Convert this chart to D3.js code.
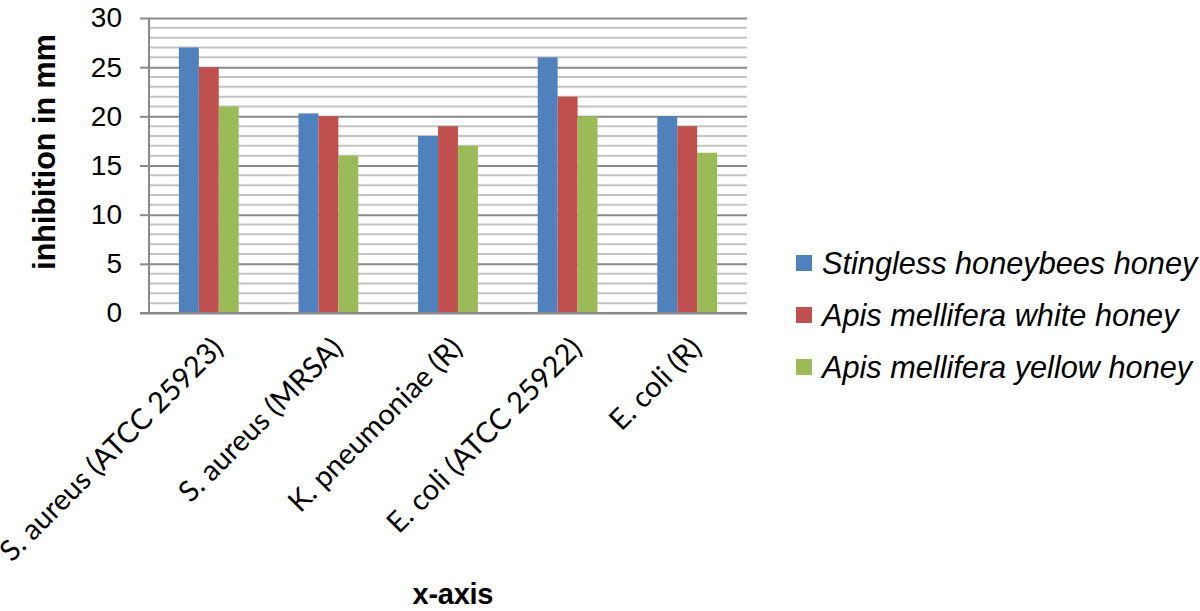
<!DOCTYPE html>
<html lang="en">
<head>
  <meta charset="UTF-8">
  <title>Inhibition zones by honey type</title>
  <script src="https://cdn.jsdelivr.net/npm/d3@7"></script>
  <style>
    html, body { margin: 0; padding: 0; background: #fff; }
    svg { display: block; }
  </style>
</head>
<body>
  <script>
    // ------------- Data -------------
    const categories = [
      "S. aureus (ATCC 25923)",
      "S. aureus (MRSA)",
      "K. pneumoniae (R)",
      "E. coli (ATCC 25922)",
      "E. coli (R)"
    ];
    const seriesNames = [
      "Stingless honeybees honey",
      "Apis mellifera white honey",
      "Apis mellifera yellow honey"
    ];
    const stinglessValues = [27, 20.3, 18, 26, 20];
    const whiteValues     = [25, 20, 19, 22, 19];
    const yellowValues    = [21, 16, 17, 20, 16.3];
    const seriesColors = ["#4f81bd", "#c0504d", "#9bbb59"];
    const yTicks = [0, 5, 10, 15, 20, 25, 30];

    // ------------- Layout -------------
    const width = 1200, height = 611;
    const plot = { left: 149, right: 747, top: 18, bottom: 313 };

    const svg = d3.select("body").append("svg")
      .attr("width", width)
      .attr("height", height);

    svg.append("rect")
      .attr("width", width).attr("height", height)
      .attr("fill", "#fff");

    const x = d3.scaleBand()
      .domain(categories)
      .range([plot.left, plot.right])
      .paddingInner(0.5)
      .paddingOuter(0.25);

    const xs = d3.scaleBand()
      .domain(seriesNames)
      .range([0, x.bandwidth()]);

    const y = d3.scaleLinear()
      .domain([0, 30])
      .range([plot.bottom, plot.top]);

    // minor gridlines every 1 unit
    const minor = d3.range(1, 30).filter(v => v % 5 !== 0);
    svg.append("g").selectAll("line")
      .data(minor)
      .join("line")
        .attr("x1", plot.left).attr("x2", plot.right)
        .attr("y1", d => y(d)).attr("y2", d => y(d))
        .attr("stroke", "#c4c4c4")
        .attr("stroke-width", 2);

    // major gridlines + y axis
    const yAxis = svg.append("g")
      .attr("transform", `translate(${plot.left},0)`)
      .call(d3.axisLeft(y).tickValues(yTicks).tickSize(-(plot.right - plot.left)).tickPadding(27));
    yAxis.select(".domain").remove();
    yAxis.selectAll(".tick line")
      .attr("stroke", "#8a8a8a")
      .attr("stroke-width", 2);
    yAxis.selectAll(".tick")
      .append("line")
        .attr("x1", -9).attr("x2", 0)
        .attr("stroke", "#8a8a8a")
        .attr("stroke-width", 2);
    yAxis.selectAll(".tick text")
      .attr("font-family", "Liberation Sans, Arial, sans-serif")
      .attr("font-size", 28)
      .attr("fill", "#000");

    // vertical axis line
    svg.append("line")
      .attr("x1", plot.left).attr("x2", plot.left)
      .attr("y1", plot.top).attr("y2", plot.bottom)
      .attr("stroke", "#8a8a8a")
      .attr("stroke-width", 2);

    // ------------- Bars -------------
    const seriesValues = [stinglessValues, whiteValues, yellowValues];
    const groups = svg.append("g").selectAll("g")
      .data(categories)
      .join("g")
        .attr("transform", d => `translate(${x(d)},0)`);

    groups.selectAll("rect")
      .data((d, i) => seriesNames.map((s, k) => ({ s, v: seriesValues[k][i], k })))
      .join("rect")
        .attr("x", d => xs(d.s))
        .attr("y", d => y(d.v))
        .attr("width", xs.bandwidth())
        .attr("height", d => y(0) - y(d.v))
        .attr("fill", d => seriesColors[d.k]);

    // bottom axis line on top of bars
    svg.append("line")
      .attr("x1", plot.left - 9).attr("x2", plot.right)
      .attr("y1", plot.bottom).attr("y2", plot.bottom)
      .attr("stroke", "#8a8a8a")
      .attr("stroke-width", 2);

    // ------------- Category labels -------------
    svg.append("g").selectAll("text")
      .data(categories)
      .join("text")
        .attr("transform", d => `translate(${x(d) + x.bandwidth() / 2 + 16},${plot.bottom + 37}) rotate(-45)`)
        .attr("text-anchor", "end")
        .attr("font-family", "Lato, 'Open Sans', sans-serif")
        .attr("font-size", 29)
        .attr("fill", "#000")
        .text(d => d);

    // ------------- Axis titles -------------
    svg.append("text")
      .attr("transform", `translate(55,152) rotate(-90)`)
      .attr("text-anchor", "middle")
      .attr("font-family", "Liberation Sans, Arial, sans-serif")
      .attr("font-weight", "bold")
      .attr("font-size", 30.5)
      .text("inhibition in mm");

    svg.append("text")
      .attr("x", 453)
      .attr("y", 604)
      .attr("text-anchor", "middle")
      .attr("font-family", "Liberation Sans, Arial, sans-serif")
      .attr("font-weight", "bold")
      .attr("font-size", 29)
      .attr("textLength", 81)
      .text("x-axis");

    // ------------- Legend -------------
    const legend = svg.append("g")
      .attr("transform", "translate(796,263)");
    const item = legend.selectAll("g")
      .data(seriesNames)
      .join("g")
        .attr("transform", (d, i) => `translate(0,${i * 52})`);
    item.append("rect")
      .attr("x", 0).attr("y", -8)
      .attr("width", 16).attr("height", 16)
      .attr("fill", (d, i) => seriesColors[i]);
    item.append("text")
      .attr("x", 26)
      .attr("y", 0)
      .attr("dy", "0.36em")
      .attr("font-family", "Liberation Sans, Arial, sans-serif")
      .attr("font-style", "italic")
      .attr("font-size", 30.7)
      .text(d => d);
  </script>
</body>
</html>
